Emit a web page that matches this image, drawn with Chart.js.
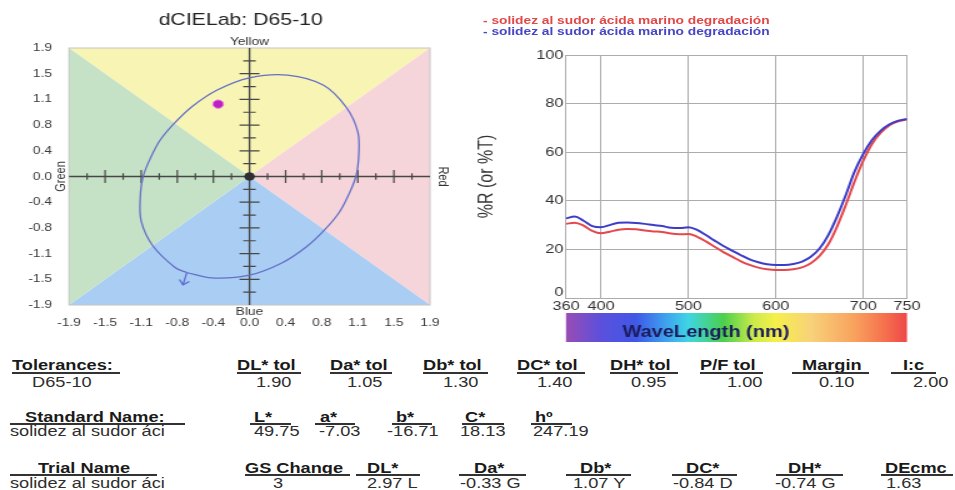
<!DOCTYPE html>
<html>
<head>
<meta charset="utf-8">
<script src="https://cdn.jsdelivr.net/npm/chart.js@4.4.0/dist/chart.umd.min.js"></script>
<style>
body { margin: 0; background: #fff; font-family: "Liberation Sans", Arial, sans-serif; }
#page { position: relative; width: 955px; height: 490px; overflow: hidden; background: #fff; }
.wide { position: absolute; transform: scaleX(1.25); transform-origin: 0 0; }
.t { position: absolute; white-space: nowrap; font-size: 14px; line-height: 16px; color: #2e2e2e; transform: scaleX(1.3); transform-origin: 0 0; }
.h { font-weight: bold; color: #1a1a1a; }
.u { position: absolute; height: 1.5px; background: #333; }
.lg { font-size: 11px; font-weight: bold; line-height: 11px; white-space: nowrap; }
</style>
</head>
<body>
<div id="page">
  <div class="wide" style="left:0;top:0;width:376px;height:345px;"><canvas id="cie" width="376" height="345"></canvas></div>
  <div class="wide" style="left:470px;top:0;width:388px;height:350px;"><canvas id="spec" width="388" height="350"></canvas></div>
  <div class="wide" id="legend" style="left:483px;top:15px;"></div>
  <div id="table"></div>
</div>
<script>
// ---- dCIELab plot ----
var chartTitle = 'dCIELab: D65-10';
var tickVals = [-1.9, -1.52, -1.14, -0.76, -0.38, 0, 0.38, 0.76, 1.14, 1.52, 1.9];
var tickLabels = ['-1.9', '-1.5', '-1.1', '-0.8', '-0.4', '0.0', '0.4', '0.8', '1.1', '1.5', '1.9'];
var sideNames = ['Yellow', 'Blue', 'Green', 'Red'];

// tolerance ellipse (a*, b*)
var ellipseA = [-0.66, -0.40, 0.00, 0.34, 0.60, 0.79, 0.94, 1.04, 1.12, 1.15, 1.14, 1.02, 0.78, 0.40,
                0.00, -0.34, -0.60, -0.79, -0.94, -1.04, -1.12, -1.15, -1.14, -1.02, -0.78, -0.66];
var ellipseB = [-1.42, -1.50, -1.46, -1.28, -1.04, -0.79, -0.54, -0.28, 0.00, 0.31, 0.66, 1.02, 1.35, 1.50,
                1.46, 1.28, 1.04, 0.79, 0.54, 0.28, 0.00, -0.31, -0.66, -1.02, -1.35, -1.42];
var arrowA = [-0.66, -0.70];
var arrowB = [-1.42, -1.60];
var standardPoint = { a: 0, b: 0 };
var trialPoint = { a: -0.33, b: 1.07 };

// ---- spectral curves ----
var waveLengths = [360, 370, 380, 390, 400, 410, 420, 430, 440, 450, 460, 470, 480, 490, 500, 510, 520, 530, 540, 550,
                   560, 570, 580, 590, 600, 610, 620, 630, 640, 650, 660, 670, 680, 690, 700, 710, 720, 730, 740, 750];
var redCurve = [30.5, 31.0, 29.8, 27.6, 26.6, 27.3, 28.1, 28.4, 28.3, 27.8, 27.4, 27.2, 26.5, 26.2, 26.3, 25.2, 23.3, 21.1, 18.9, 17.0,
                15.1, 13.6, 12.5, 11.8, 11.5, 11.5, 11.8, 12.6, 14.3, 17.3, 22.1, 29.4, 38.3, 47.9, 56.5, 63.4, 68.0, 71.1, 72.7, 73.5];
var blueCurve = [32.8, 33.5, 31.8, 29.6, 29.1, 30.0, 31.0, 31.1, 30.9, 30.5, 30.0, 29.6, 28.9, 28.8, 29.1, 28.0, 25.9, 23.6, 21.4, 19.5,
                 17.6, 15.9, 14.7, 13.9, 13.6, 13.6, 14.0, 15.0, 17.0, 20.4, 25.9, 33.5, 42.4, 52.0, 59.3, 65.0, 68.9, 71.5, 73.0, 73.7];
var seriesNames = ['- solidez al sudor ácida marino degradación', '- solidez al sudor ácida marino degradación'];
var wlTicks = [360, 400, 500, 600, 700, 750];
var yLabel = '%R (or %T)';
var xLabel = 'WaveLength (nm)';

// ---- table ----
var tolTitle = 'Tolerances:';
var tolName = 'D65-10';
var tolHeads = ['DL* tol', 'Da* tol', 'Db* tol', 'DC* tol', 'DH* tol', 'P/F tol', 'Margin', 'I:c'];
var tolVals = ['1.90', '1.05', '1.30', '1.40', '0.95', '1.00', '0.10', '2.00'];
var stdTitle = 'Standard Name:';
var stdName = 'solidez al sudor áci';
var stdHeads = ['L*', 'a*', 'b*', 'C*', 'hº'];
var stdVals = ['49.75', '-7.03', '-16.71', '18.13', '247.19'];
var trialTitle = 'Trial Name';
var trialName = 'solidez al sudor áci';
var trialHeads = ['GS Change', 'DL*', 'Da*', 'Db*', 'DC*', 'DH*', 'DEcmc'];
var trialVals = ['3', '2.97 L', '-0.33 G', '1.07 Y', '-0.84 D', '-0.74 G', '1.63'];

// table layout (pixels)
var tolHeadX = [237, 330, 423, 517, 610, 700, 802, 903];
var tolLine = [[237, 301], [330, 392], [423, 488], [517, 585], [610, 678], [700, 763], [792, 869], [891, 936]];
var tolValX = [256, 347, 443, 537, 631, 727, 819, 913];
var stdHeadX = [254, 320, 396, 465, 535];
var stdLine = [[250, 291], [315, 355], [392, 432], [462, 504], [531, 572]];
var stdValX = [254, 319, 387, 460, 533];
var trialHeadX = [245, 367, 474, 580, 686, 788, 885];
var trialLine = [[245, 350], [356, 420], [459, 526], [566, 631], [672, 737], [776, 843], [881, 953]];
var trialValX = [273, 367, 460, 573, 673, 775, 886];

var FONT = '"Liberation Sans", Arial, sans-serif';

// 背景三角 + 十字軸
var ciePlugin = {
    id: 'ciePlugin',
    beforeDatasetsDraw: function(chart) {
        var c = chart.ctx, a = chart.chartArea, sx = chart.scales.x, sy = chart.scales.y;
        var cx = sx.getPixelForValue(0), cy = sy.getPixelForValue(0);
        function tri(x1, y1, x2, y2, col) {
            c.beginPath(); c.moveTo(x1, y1); c.lineTo(x2, y2); c.lineTo(cx, cy); c.closePath();
            c.fillStyle = col; c.fill();
        }
        c.save();
        tri(a.left, a.top, a.right, a.top, '#f8f4b4');
        tri(a.right, a.top, a.right, a.bottom, '#f5d5d9');
        tri(a.right, a.bottom, a.left, a.bottom, '#a9cdf3');
        tri(a.left, a.bottom, a.left, a.top, '#c6e2c6');
        c.strokeStyle = '#c4c4c4'; c.lineWidth = 1;
        c.strokeRect(a.left, a.top, a.right - a.left, a.bottom - a.top);

        c.strokeStyle = '#474747'; c.lineWidth = 1.4;
        c.beginPath();
        c.moveTo(a.left, cy); c.lineTo(a.right, cy);
        c.moveTo(cx, a.top); c.lineTo(cx, a.bottom);
        c.stroke();

        c.lineWidth = 1.2;
        c.beginPath();
        for (var i = 0; i < tickVals.length; i++) {
            var v = tickVals[i];
            if (i > 0 && i < tickVals.length - 1 && v !== 0) {
                var px = sx.getPixelForValue(v), py = sy.getPixelForValue(v);
                c.moveTo(px, cy - 6.5); c.lineTo(px, cy + 6.5);
                c.moveTo(cx - 8, py); c.lineTo(cx + 8, py);
            }
            if (i < tickVals.length - 1) {
                var m = (tickVals[i] + tickVals[i + 1]) / 2;
                var mx = sx.getPixelForValue(m), my = sy.getPixelForValue(m);
                c.moveTo(mx, cy - 3.3); c.lineTo(mx, cy + 3.3);
                c.moveTo(cx - 5, my); c.lineTo(cx + 5, my);
            }
        }
        c.stroke();
        c.restore();
    },
    afterDraw: function(chart) {
        var c = chart.ctx, a = chart.chartArea, sx = chart.scales.x, sy = chart.scales.y;
        var cx = sx.getPixelForValue(0), cy = sy.getPixelForValue(0);
        c.save();
        c.fillStyle = '#222';
        c.textAlign = 'center'; c.textBaseline = 'middle';
        c.font = '17px ' + FONT;
        c.fillText(chartTitle, (a.left + a.right) / 2 - 7, 20);
        c.fillStyle = '#333';
        c.font = '11px ' + FONT;
        c.fillText(sideNames[0], cx, 42);
        c.fillText(sideNames[1], cx, 312);
        c.save(); c.translate(49, cy); c.rotate(-Math.PI / 2); c.fillText(sideNames[2], 0, 0); c.restore();
        c.save(); c.translate(354, cy); c.rotate(Math.PI / 2); c.fillText(sideNames[3], 0, 0); c.restore();

        // 箭頭
        var meta = chart.getDatasetMeta(3);
        var p0 = meta.data[0], p1 = meta.data[1];
        var ang = Math.atan2(p1.y - p0.y, p1.x - p0.x);
        c.strokeStyle = '#5f6bd0'; c.lineWidth = 1.3;
        c.beginPath();
        c.moveTo(p1.x + 6 * Math.cos(ang + Math.PI - 0.75), p1.y + 6 * Math.sin(ang + Math.PI - 0.75));
        c.lineTo(p1.x, p1.y);
        c.lineTo(p1.x + 6 * Math.cos(ang + Math.PI + 0.75), p1.y + 6 * Math.sin(ang + Math.PI + 0.75));
        c.stroke();
        c.restore();
    }
};

var ellipseData = ellipseA.map(function(v, i) { return { x: v, y: ellipseB[i] }; });
var arrowData = arrowA.map(function(v, i) { return { x: v, y: arrowB[i] }; });

new Chart(document.getElementById('cie').getContext('2d'), {
    type: 'scatter',
    data: {
        datasets: [
            { data: [{ x: standardPoint.a, y: standardPoint.b }], pointRadius: 3.8, backgroundColor: '#2e2e2e', borderColor: '#2e2e2e', borderWidth: 1 },
            { data: [{ x: trialPoint.a, y: trialPoint.b }], pointRadius: 4.2, backgroundColor: '#c21ec4', borderColor: '#e27ae2', borderWidth: 1 },
            { type: 'line', data: ellipseData, showLine: true, fill: false, tension: 0.35, pointRadius: 0, borderColor: '#6570c8', borderWidth: 1.3 },
            { type: 'line', data: arrowData, showLine: true, fill: false, pointRadius: 0, borderColor: '#5f6bd0', borderWidth: 1.3 }
        ]
    },
    options: {
        responsive: false,
        animation: false,
        events: [],
        layout: { padding: { top: 48, right: 32, left: 0, bottom: 0 } },
        plugins: { legend: { display: false }, tooltip: { enabled: false }, title: { display: false } },
        scales: {
            x: {
                type: 'linear', min: -1.9, max: 1.9,
                afterBuildTicks: function(s) { s.ticks = tickVals.map(function(v) { return { value: v }; }); },
                afterFit: function(s) { s.height = 40; },
                grid: { display: false, drawTicks: false },
                border: { display: false },
                ticks: { padding: 11, color: '#3a3a3a', font: { size: 11, family: FONT }, maxRotation: 0, autoSkip: false,
                         callback: function(v, i) { return tickLabels[i]; } }
            },
            y: {
                type: 'linear', min: -1.9, max: 1.9,
                afterBuildTicks: function(s) { s.ticks = tickVals.map(function(v) { return { value: v }; }); },
                afterFit: function(s) { s.width = 55.2; },
                grid: { display: false, drawTicks: false },
                border: { display: false },
                ticks: { padding: 13.6, color: '#3a3a3a', font: { size: 11, family: FONT }, autoSkip: false,
                         callback: function(v, i) { return tickLabels[i]; } }
            }
        }
    },
    plugins: [ciePlugin]
});

// 光譜色條
var rainbowStops = [[360, '#9a4db4'], [400, '#5c50dc'], [440, '#4058e8'], [475, '#3ea4ee'], [500, '#3ed6e4'],
                    [540, '#4cd04c'], [575, '#cdeb4a'], [600, '#f6f04a'], [640, '#f8d27a'], [690, '#f8a25e'],
                    [725, '#f6704e'], [750, '#ee4848']];
var specPlugin = {
    id: 'specPlugin',
    afterDraw: function(chart) {
        var c = chart.ctx, sx = chart.scales.x, sy = chart.scales.y;
        var x0 = sx.getPixelForValue(360), x1 = sx.getPixelForValue(750);
        var g = c.createLinearGradient(x0, 0, x1, 0);
        rainbowStops.forEach(function(s) { g.addColorStop((s[0] - 360) / 390, s[1]); });
        c.save();
        c.fillStyle = g;
        c.fillRect(x0, 313, x1 - x0, 29);
        c.fillStyle = '#1c1c5c';
        c.font = 'bold 16px ' + FONT;
        c.textAlign = 'center'; c.textBaseline = 'middle';
        c.fillText(xLabel, sx.getPixelForValue(520), 333);
        // 0 標籤稍微上移
        c.fillStyle = '#333';
        c.font = '13px ' + FONT;
        c.textAlign = 'right';
        c.fillText('0', chart.chartArea.left - 2, sy.getPixelForValue(0) - 6);
        c.restore();
    }
};

new Chart(document.getElementById('spec').getContext('2d'), {
    type: 'scatter',
    data: {
        datasets: [
            { data: waveLengths.map(function(w, i) { return { x: w, y: blueCurve[i] }; }), showLine: true,
              borderColor: '#3c3cc6', borderWidth: 2, pointRadius: 0, cubicInterpolationMode: 'monotone' },
            { data: waveLengths.map(function(w, i) { return { x: w, y: redCurve[i] }; }), showLine: true,
              borderColor: '#e4474c', borderWidth: 2, pointRadius: 0, cubicInterpolationMode: 'monotone' }
        ]
    },
    options: {
        responsive: false,
        animation: false,
        events: [],
        layout: { padding: { top: 55, right: 38.4, left: 0, bottom: 0 } },
        plugins: { legend: { display: false }, tooltip: { enabled: false } },
        scales: {
            x: {
                type: 'linear', min: 360, max: 750,
                afterBuildTicks: function(s) { s.ticks = wlTicks.map(function(v) { return { value: v }; }); },
                afterFit: function(s) { s.height = 52; },
                grid: { color: '#acacac', drawTicks: false },
                border: { color: '#acacac' },
                ticks: { padding: 1, color: '#333', font: { size: 13, family: FONT }, maxRotation: 0, autoSkip: false }
            },
            y: {
                min: 0, max: 100,
                afterFit: function(s) { s.width = 76.8; },
                grid: { color: '#acacac', drawTicks: false },
                border: { color: '#acacac' },
                title: { display: true, text: yLabel, color: '#333', font: { size: 16, family: FONT }, padding: { top: 4, bottom: 0 } },
                ticks: { stepSize: 20, padding: 2, color: '#333', font: { size: 13, family: FONT },
                         callback: function(v) { return v === 0 ? '' : v; } }
            }
        }
    },
    plugins: [specPlugin]
});

// 圖例文字
var legendColors = ['#e04848', '#4646c4'];
var lg = document.getElementById('legend');
seriesNames.forEach(function(n, i) {
    var d = document.createElement('div');
    d.className = 'lg';
    d.style.color = legendColors[i];
    d.textContent = n;
    lg.appendChild(d);
});

// 表格
var tb = document.getElementById('table');
function put(txt, x, yc, bold) {
    var s = document.createElement('div');
    s.className = 't' + (bold ? ' h' : '');
    s.style.left = x + 'px';
    s.style.top = (yc - 8) + 'px';
    s.textContent = txt;
    tb.appendChild(s);
}
function uline(x1, x2, y) {
    var u = document.createElement('div');
    u.className = 'u';
    u.style.left = x1 + 'px';
    u.style.width = (x2 - x1) + 'px';
    u.style.top = y + 'px';
    tb.appendChild(u);
}
put(tolTitle, 12, 365, true); uline(12, 120, 372);
put(tolName, 32, 382, false);
tolHeads.forEach(function(h, i) { put(h, tolHeadX[i], 365, true); uline(tolLine[i][0], tolLine[i][1], 372); put(tolVals[i], tolValX[i], 382, false); });
put(stdTitle, 25, 417, true); uline(10, 185, 423);
put(stdName, 10, 431, false);
stdHeads.forEach(function(h, i) { put(h, stdHeadX[i], 417, true); uline(stdLine[i][0], stdLine[i][1], 423); put(stdVals[i], stdValX[i], 431, false); });
put(trialTitle, 38, 468, true); uline(10, 157, 474);
put(trialName, 10, 483, false);
trialHeads.forEach(function(h, i) { put(h, trialHeadX[i], 468, true); uline(trialLine[i][0], trialLine[i][1], 474); put(trialVals[i], trialValX[i], 483, false); });
</script>
</body>
</html>
